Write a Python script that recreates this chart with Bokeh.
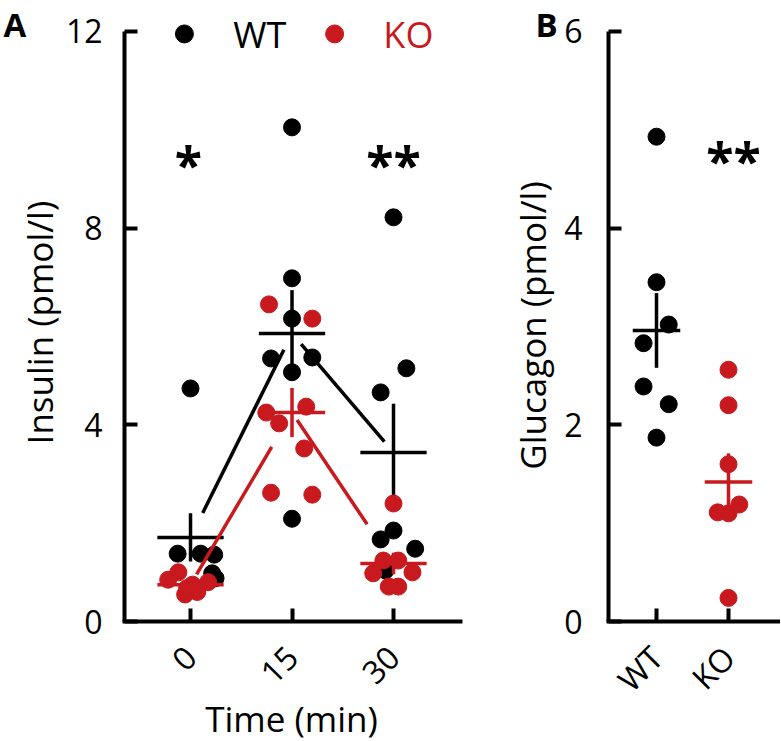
import math
from bokeh.plotting import figure
from bokeh.models import FixedTicker, Range1d, Label
from bokeh.layouts import row
from bokeh.embed import file_html
from bokeh.resources import INLINE
from bokeh.core.properties import value

# ---------------- data ----------------
times = [0, 15, 30]
time_labels = ["0", "15", "30"]

# Panel A: insulin (pmol/l), individual animals per time point
wt_ins_t0 = [4.74, 1.38, 1.38, 1.36, 0.98, 0.88]
wt_ins_t0_dx = [0.0, -1.9, 1.5, 3.5, 3.2, 3.7]
wt_ins_t15 = [10.05, 6.98, 6.16, 5.35, 5.37, 5.07, 2.09]
wt_ins_t15_dx = [0.0, 0.0, 0.0, -3.1, 3.0, 0.0, 0.0]
wt_ins_t30 = [8.22, 5.15, 4.66, 1.85, 1.67, 1.48, 1.04]
wt_ins_t30_dx = [0.0, 1.9, -1.9, 0.0, -1.9, 3.2, -1.2]

ko_ins_t0 = [0.85, 1.00, 0.68, 0.60, 0.80, 0.55, 0.75]
ko_ins_t0_dx = [-3.3, -1.8, -0.5, 1.0, 2.6, -0.8, 0.3]
ko_ins_t15 = [6.45, 6.16, 4.25, 4.37, 4.03, 3.52, 2.62, 2.58]
ko_ins_t15_dx = [-3.4, 3.0, -3.8, 2.1, -1.9, 1.8, -3.1, 3.0]
ko_ins_t30 = [2.40, 1.24, 1.24, 0.98, 1.00, 0.71, 0.71]
ko_ins_t30_dx = [0.0, -1.5, 0.7, -3.0, 2.8, -0.7, 0.7]

wt_ins_mean = [1.71, 5.86, 3.44]
wt_ins_sem = [0.49, 0.88, 0.99]
ko_ins_mean = [0.75, 4.25, 1.18]
ko_ins_sem = [0.07, 0.50, 0.22]

ins_ticks = [0, 4, 8, 12]
ins_sig = ["*", "", "**"]

# Panel B: glucagon (pmol/l)
groups = ["WT", "KO"]
wt_glu = [4.93, 3.45, 3.02, 2.83, 2.39, 2.21, 1.87]
wt_glu_dx = [0.0, 0.0, 0.17, -0.18, -0.18, 0.17, 0.0]
ko_glu = [2.56, 2.20, 1.60, 1.11, 1.10, 1.19, 0.24]
ko_glu_dx = [0.0, 0.0, 0.0, -0.15, 0.0, 0.15, 0.0]
glu_mean = [2.96, 1.42]
glu_sem = [0.38, 0.29]
glu_ticks = [0, 2, 4, 6]
glu_sig = "**"

# ---------------- style ----------------
BLACK = "#000000"
RED = "#C8191E"
FONT = "Open Sans"
TICK_FS = "32px"
TITLE_FS = "35px"
SIG_FS = "50px"
DOT = 17
LW = 3.5
AXW = 4
H = 741


def style_axes(p, yticks, y_at, x_bounds):
    p.xgrid.visible = False
    p.ygrid.visible = False
    p.outline_line_color = None
    for ax in (p.xaxis[0], p.yaxis[0]):
        ax.axis_line_width = AXW
        ax.axis_line_color = BLACK
        ax.major_tick_line_width = AXW
        ax.major_tick_line_color = BLACK
        ax.major_tick_in = 13
        ax.major_tick_out = 0
        ax.minor_tick_line_color = None
        ax.major_label_text_font = FONT
        ax.major_label_text_font_size = TICK_FS
        ax.major_label_text_color = BLACK
    p.yaxis[0].ticker = FixedTicker(ticks=yticks)
    p.yaxis[0].bounds = (yticks[0], yticks[-1])
    p.yaxis[0].fixed_location = y_at
    p.yaxis[0].major_label_standoff = 22
    p.xaxis[0].fixed_location = yticks[0]
    p.xaxis[0].bounds = x_bounds
    p.xaxis[0].major_label_orientation = math.pi / 4
    p.xaxis[0].major_label_standoff = 30


def crosshair(p, xc, m, s, half, color):
    p.segment(x0=[xc - half], y0=[m], x1=[xc + half], y1=[m], line_color=color, line_width=LW)
    p.segment(x0=[xc], y0=[m - s], x1=[xc], y1=[m + s], line_color=color, line_width=LW)


def connect(p, xs, ms, fr, color):
    for i in range(len(xs) - 1):
        f0, f1 = fr[i]
        dx, dy = xs[i + 1] - xs[i], ms[i + 1] - ms[i]
        p.segment(x0=[xs[i] + f0 * dx], y0=[ms[i] + f0 * dy],
                  x1=[xs[i] + f1 * dx], y1=[ms[i] + f1 * dy],
                  line_color=color, line_width=LW)


def text_label(p, x, y, txt, size, color=BLACK, bold=False, angle=0.0,
               align="left", baseline="alphabetic"):
    p.add_layout(Label(x=x, y=y, text=txt, angle=angle, text_align=align,
                       text_baseline=baseline, text_font=FONT, text_font_size=size,
                       text_font_style="bold" if bold else "normal", text_color=color))


# ---------------- panel A ----------------
pA = figure(output_backend="svg", toolbar_location=None, title=None,
            frame_width=505, frame_height=H, min_border=0,
            x_range=Range1d(-28.08, 46.55), y_range=Range1d(-2.44, 12.63))
style_axes(pA, ins_ticks, -9.75, (-10.05, 40.2))
pA.xaxis[0].ticker = FixedTicker(ticks=times)
pA.xaxis[0].major_label_overrides = {t: l for t, l in zip(times, time_labels)}

wt_sets = [(wt_ins_t0, wt_ins_t0_dx), (wt_ins_t15, wt_ins_t15_dx), (wt_ins_t30, wt_ins_t30_dx)]
ko_sets = [(ko_ins_t0, ko_ins_t0_dx), (ko_ins_t15, ko_ins_t15_dx), (ko_ins_t30, ko_ins_t30_dx)]

connect(pA, times, wt_ins_mean, [(0.12, 0.92), (0.09, 0.91)], BLACK)
for t, (ys, dxs) in zip(times, wt_sets):
    pA.scatter([t + d for d in dxs], ys, size=DOT, marker="circle", color=BLACK)
for t, m, s in zip(times, wt_ins_mean, wt_ins_sem):
    crosshair(pA, t, m, s, 4.9, BLACK)

connect(pA, times, ko_ins_mean, [(0.06, 0.80), (0.05, 0.74)], RED)
for t, (ys, dxs) in zip(times, ko_sets):
    pA.scatter([t + d for d in dxs], ys, size=DOT, marker="circle", color=RED)
for t, m, s in zip(times, ko_ins_mean, ko_ins_sem):
    crosshair(pA, t, m, s, 4.9, RED)

# significance marks
pA.text(x=[t + d for t, d in zip(times, [-0.3, 0.0, 0.0])], y=[9.31] * 3, text=ins_sig,
        text_align="center", text_baseline="middle", text_font=value(FONT),
        text_font_size=SIG_FS, text_font_style="bold", text_color=BLACK)

# legend (drawn inside panel A)
pA.scatter([-0.9], [11.95], size=DOT + 1, marker="circle", color=BLACK)
pA.scatter([21.3], [11.95], size=DOT + 1, marker="circle", color=RED)
pA.text(x=[6.3], y=[11.94], text=["WT"], text_align="left", text_baseline="middle",
        text_font=value(FONT), text_font_size="36px", text_color=BLACK)
pA.text(x=[28.5], y=[11.94], text=["KO"], text_align="left", text_baseline="middle",
        text_font=value(FONT), text_font_size="36px", text_color=RED)

text_label(pA, -22.31, 6.08, "Insulin (pmol/l)", TITLE_FS, angle=math.pi / 2,
           align="center", baseline="middle")
text_label(pA, 14.93, -1.97, "Time (min)", "35px", align="center")
text_label(pA, -27.63, 12.59, "A", "33px", bold=True, baseline="top")

# ---------------- panel B ----------------
gx = list(range(len(groups)))
pB = figure(output_backend="svg", toolbar_location=None, title=None,
            frame_width=275, frame_height=H, min_border=0,
            x_range=Range1d(-2.097, 1.722), y_range=Range1d(-1.22, 6.315))
style_axes(pB, glu_ticks, -0.667, (-0.70, 1.722))
pB.yaxis[0].major_label_standoff = 26
pB.xaxis[0].ticker = FixedTicker(ticks=gx)
pB.xaxis[0].major_label_overrides = {i: g for i, g in zip(gx, groups)}

pB.scatter([gx[0] + d for d in wt_glu_dx], wt_glu, size=DOT, marker="circle", color=BLACK)
crosshair(pB, gx[0], glu_mean[0], glu_sem[0], 0.33, BLACK)
pB.scatter([gx[1] + d for d in ko_glu_dx], ko_glu, size=DOT, marker="circle", color=RED)
crosshair(pB, gx[1], glu_mean[1], glu_sem[1], 0.33, RED)

pB.text(x=[1.07], y=[4.69], text=[glu_sig], text_align="center", text_baseline="middle",
        text_font=value(FONT), text_font_size=SIG_FS, text_font_style="bold", text_color=BLACK)

text_label(pB, -1.72, 3.01, "Glucagon (pmol/l)", TITLE_FS, angle=math.pi / 2,
           align="center", baseline="middle")
text_label(pB, -1.68, 6.295, "B", "33px", bold=True, baseline="top")

layout = row(pA, pB)
open("out.html", "w").write(file_html(layout, INLINE))
